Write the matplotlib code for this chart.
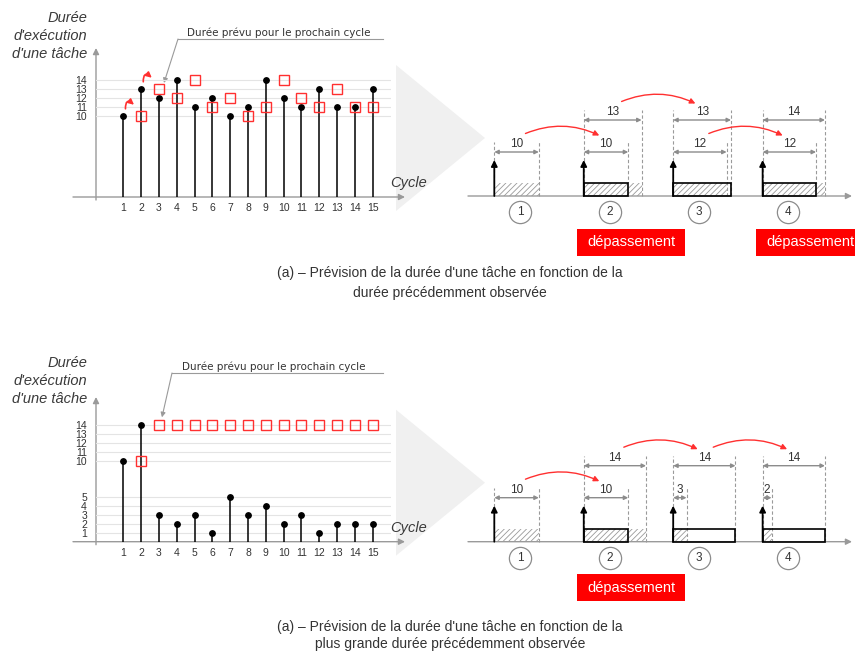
import numpy as np
import matplotlib
matplotlib.use("Agg")
import matplotlib.pyplot as plt
from matplotlib.patches import Polygon, Rectangle
from matplotlib.transforms import offset_copy

plt.rcParams['font.family'] = ['Liberation Sans', 'DejaVu Sans']
plt.rcParams['hatch.linewidth'] = 0.6

W, H = 855, 655

# --- values ---
cycles = [1, 2, 3, 4, 5, 6, 7, 8, 9, 10, 11, 12, 13, 14, 15]
pred_cycles = [2, 3, 4, 5, 6, 7, 8, 9, 10, 11, 12, 13, 14, 15]

actual_a = [10, 13, 12, 14, 11, 12, 10, 11, 14, 12, 11, 13, 11, 11, 13]
pred_a = [10, 13, 12, 14, 11, 12, 10, 11, 14, 12, 11, 13, 11, 11]
yticks_a = [10, 11, 12, 13, 14]

actual_b = [10, 14, 3, 2, 3, 1, 5, 3, 4, 2, 3, 1, 2, 2, 2]
pred_b = [10, 14, 14, 14, 14, 14, 14, 14, 14, 14, 14, 14, 14, 14]
yticks_b = [1, 2, 3, 4, 5, 10, 11, 12, 13, 14]

tl_labels = ['1', '2', '3', '4']
tl_actual_a = [10, 13, 12, 14]
tl_pred_a = [None, 10, 13, 12]
tl_actual_b = [10, 14, 3, 2]
tl_pred_b = [None, 10, 14, 14]

y_title = ["Durée", "d'exécution", "d'une tâche"]
note = 'Durée prévu pour le prochain cycle'
caption_a = ["(a) – Prévision de la durée d'une tâche en fonction de la",
             "durée précédemment observée"]
caption_b = ["(a) – Prévision de la durée d'une tâche en fonction de la",
             "plus grande durée précédemment observée"]

GREY = '#9a9a9a'
TXT = '#333333'
RED = '#ff3030'

fig = plt.figure(figsize=(W / 100, H / 100), dpi=100)
bg = fig.add_axes([0, 0, 1, 1])
bg.set_xlim(0, W)
bg.set_ylim(H, 0)
bg.axis('off')


def px_axes(x0, y0, x1, y1):
    return fig.add_axes([x0 / W, 1 - y1 / H, (x1 - x0) / W, (y1 - y0) / H])


def axis_arrow(ax, start, end, color=GREY, lw=1.0, ms=9):
    ax.annotate('', xy=end, xytext=start,
                arrowprops=dict(arrowstyle='-|>', color=color, lw=lw,
                                mutation_scale=ms, shrinkA=0, shrinkB=0))


def stem_panel(top, base, arrow_top, actual, pred, yticks, ylim, scale=None):
    ax = px_axes(96, top, 391, base)
    if scale is not None:
        ax.set_yscale('function', functions=scale)
    ax.set_xlim(-0.534, 16.03)
    ax.set_ylim(*ylim)
    ax.set_xticks(cycles)
    ax.set_yticks(yticks)
    ax.grid(axis='y', color='#e4e4e4', lw=0.8)
    ax.set_axisbelow(True)
    for s in ax.spines.values():
        s.set_visible(False)
    ax.patch.set_alpha(0)
    ax.tick_params(length=0, labelsize=7.5, labelcolor=TXT)
    ax.tick_params(axis='y', pad=6.5)
    ax.tick_params(axis='x', pad=4.5)
    ax.vlines(cycles, ylim[0], actual, color='k', lw=1.1)
    ax.plot(cycles, actual, 'o', color='k', ms=3.9)
    ax.plot(pred_cycles, pred, 's', mfc='none', mec=RED, mew=1, ms=6.5)
    # axes lines with arrows
    axis_arrow(bg, (73, base), (405, base))
    axis_arrow(bg, (96, base + 3), (96, arrow_top))
    for i, line in enumerate(y_title):
        bg.text(87, top - 52 + i * 18, line, ha='right', va='center',
                fontsize=10.5, style='italic', color='#3a3a3a')
    bg.text(390, base - 14, 'Cycle', ha='left', va='center',
            fontsize=10.5, style='italic', color='#3a3a3a')
    # projection funnel
    mid = base - 59
    bg.add_patch(Polygon([(396, mid - 73), (485, mid), (396, mid + 73)],
                         closed=True, facecolor='#f0f0f0', edgecolor='none',
                         zorder=0))
    return ax


def note_arrow(ax, tx, ty, x0, pt, off):
    bg.text(tx, ty, note, ha='left', va='center', fontsize=7.5,
            family='DejaVu Sans', color=TXT)
    bg.plot([x0, 383], [ty + 6, ty + 6], color=GREY, lw=0.8)
    bg.annotate('', xy=pt, xycoords=offset_copy(ax.transData, fig=fig,
                                                  x=off[0], y=off[1], units='dots'),
                xytext=(x0, ty + 6), textcoords='data',
                arrowprops=dict(arrowstyle='-|>', color=GREY, lw=0.8,
                                mutation_scale=7, shrinkA=0, shrinkB=0))


PXU = 4.45       # pixels per time unit in the timelines
PERIOD = 20.1    # time units between two cycles
BOX_H = 13
LOW, HIGH = 44, 76
ARROW_TOP = 36


def timeline(axis_y, actual, pred):
    ax = px_axes(460, axis_y - 116, 855, axis_y + 64)
    ax.set_xlim((460 - 494.3) / PXU, (855 - 494.3) / PXU)
    ax.set_ylim(-64, 116)
    ax.axis('off')
    axis_arrow(ax, ((468 - 494.3) / PXU, 0), ((852 - 494.3) / PXU, 0))
    dash = dict(color=GREY, lw=0.8, ls=(0, (3, 2)), zorder=1)
    levels = []
    for i, (a, p) in enumerate(zip(actual, pred)):
        s = i * PERIOD
        ax.add_patch(Rectangle((s, 0), a, BOX_H, facecolor='white',
                               edgecolor='#999999', hatch='//////', lw=0,
                               zorder=2))
        if p is not None:
            ax.add_patch(Rectangle((s, 0), p, BOX_H, fill=False,
                                   edgecolor='k', lw=1.2, zorder=3))
        vals = sorted({a} | ({p} if p is not None else set()))
        dims = dict(zip(vals, [LOW, HIGH][:len(vals)]))
        ax.plot([s, s], [BOX_H, max(dims.values()) + 10], **dash)
        for v, y in dims.items():
            ax.plot([s + v, s + v], [0, y + 10], **dash)
            ax.annotate('', xy=(s + v, y), xytext=(s, y),
                        arrowprops=dict(arrowstyle='<|-|>', color='#8c8c8c',
                                        lw=1, mutation_scale=6,
                                        shrinkA=0, shrinkB=0))
            ax.text(s + v / 2, y + 8, str(v), ha='center', va='center',
                    fontsize=8.5, color=TXT)
        ax.annotate('', xy=(s, ARROW_TOP), xytext=(s, 0),
                    arrowprops=dict(arrowstyle='-|>', color='k', lw=1.3,
                                    mutation_scale=9, shrinkA=0, shrinkB=0),
                    zorder=4)
        ax.plot(s + 5.8, -16, 'o', ms=16, mfc='white', mec='#8c8c8c',
                mew=0.9, clip_on=False)
        ax.text(s + 5.8, -16, tl_labels[i], ha='center', va='center',
                fontsize=8.5, color=TXT)
        if p is not None and a > p:
            ax.add_patch(Rectangle((s - 1.5, -59.5), 24.3, 27,
                                   facecolor='#ff0000', lw=0, clip_on=False))
            ax.text(s - 1.5 + 12.15, -46, 'dépassement', color='white',
                    ha='center', va='center', fontsize=10.5)
        levels.append(dims)
    # the value carried over to the next cycle
    for i in range(1, len(actual)):
        p = pred[i]
        ax.annotate('', xy=(i * PERIOD + p / 2 - 1.5, levels[i][p] + 16.5),
                    xytext=((i - 1) * PERIOD + p / 2 + 2, levels[i - 1][p] + 18.5),
                    arrowprops=dict(arrowstyle='-|>', color=RED, lw=1,
                                    mutation_scale=8, shrinkA=0, shrinkB=0,
                                    connectionstyle='arc3,rad=-0.22'))


# --- panel (a): previous observed duration ---
ax_a = stem_panel(70, 197, 48, actual_a, pred_a, yticks_a, (1, 15.11))
for c in (1, 2):
    v = actual_a[c - 1]
    ax_a.annotate('', xy=(c + 0.6, v + 1.25), xytext=(c + 0.12, v + 0.8),
                  arrowprops=dict(arrowstyle='-|>', color=RED, lw=1.2,
                                  mutation_scale=8, shrinkA=0, shrinkB=0,
                                  connectionstyle='arc3,rad=-1.1'))
note_arrow(ax_a, 187, 33, 178, (3, pred_a[1]), (5, 6))
timeline(196, tl_actual_a, tl_pred_a)
bg.text(450, 273, caption_a[0], ha='center', va='center', fontsize=10, color=TXT)
bg.text(450, 293, caption_a[1], ha='center', va='center', fontsize=10, color=TXT)

# --- panel (b): largest observed duration so far ---
v_knots = [-100, 5, 10, 100]
g_knots = [-100, 5, 9.08, 99.08]
scale_b = (lambda v: np.interp(v, v_knots, g_knots),
           lambda g: np.interp(g, g_knots, v_knots))
ax_b = stem_panel(415, 541.7, 397, actual_b, pred_b, yticks_b, (0, 15.16),
                  scale=scale_b)
note_arrow(ax_b, 182, 367, 172, (3, pred_b[1]), (3, 8))
timeline(541.7, tl_actual_b, tl_pred_b)
bg.text(450, 627, caption_b[0], ha='center', va='center', fontsize=10, color=TXT)
bg.text(450, 644, caption_b[1], ha='center', va='center', fontsize=10, color=TXT)

fig.savefig('out.png', dpi=100)
